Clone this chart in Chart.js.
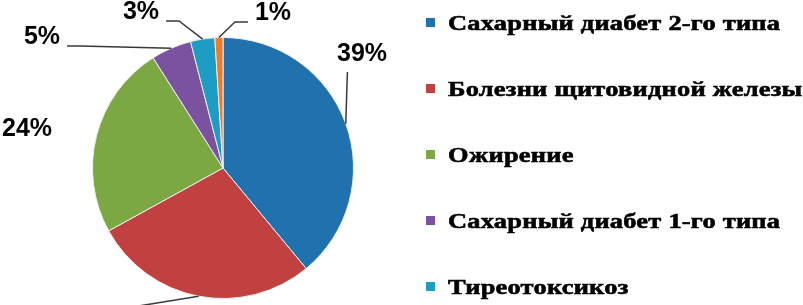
<!DOCTYPE html>
<html lang="ru">
<head>
<meta charset="utf-8">
<script src="https://cdn.jsdelivr.net/npm/chart.js@4"></script>
<style>
    html, body { margin: 0; padding: 0; background: #fff; }
    body { width: 803px; height: 305px; overflow: hidden; position: relative; }
    #wrap { position: absolute; left: 0; top: 0; width: 440px; height: 340px; }
    #legend { position: absolute; left: 426px; top: -10.5px; margin: 0; padding: 0; list-style: none; }
    #legend li {
        height: 66px; display: flex; align-items: center; white-space: nowrap;
        font: bold 22px "Liberation Serif", "Times New Roman", serif; color: #000;
    }
    #legend .box { width: 9px; height: 9px; margin-right: 13px; flex: none; }
    #legend .txt {
        display: inline-block; transform: scaleX(1.2); transform-origin: left center;
        letter-spacing: 0.2px; -webkit-text-stroke: 0.6px #000;
    }
</style>
</head>
<body>
<div id="wrap"><canvas id="chart"></canvas></div>
<ul id="legend"></ul>
<script>
    const categories = [
        "Сахарный диабет 2-го типа",
        "Болезни щитовидной железы",
        "Ожирение",
        "Сахарный диабет 1-го типа",
        "Тиреотоксикоз",
        "Другое"
    ];
    const shares = [39, 28, 24, 5, 3, 1];
    const colors = ["#1f72ae", "#c0413f", "#7ba842", "#7a52a0", "#1e9dc4", "#f07a2a"];

    // where each percent label sits, relative to the pie centre (px), and whether it gets a leader line
    const labelOffsets = [[139, -114], [-148, 150], [-196, -39], [-181, -131], [-82, -156], [50, -155]];
    const labelLeaders = [true, true, false, true, true, true];

    // HTML legend
    const legend = document.getElementById("legend");
    categories.forEach((name, i) => {
        const li = document.createElement("li");
        const box = document.createElement("span");
        box.className = "box";
        box.style.background = colors[i];
        const txt = document.createElement("span");
        txt.className = "txt";
        txt.textContent = name;
        li.appendChild(box);
        li.appendChild(txt);
        legend.appendChild(li);
    });

    // percent labels + leader lines
    const outsideLabels = {
        id: "outsideLabels",
        afterDatasetsDraw(chart) {
            const ctx = chart.ctx;
            const arcs = chart.getDatasetMeta(0).data;
            ctx.save();
            ctx.font = "bold 25px 'Liberation Sans', Arial, sans-serif";
            ctx.textAlign = "center";
            ctx.textBaseline = "middle";
            arcs.forEach((arc, i) => {
                const { x, y, startAngle, endAngle, outerRadius } = arc.getProps(["x", "y", "startAngle", "endAngle", "outerRadius"], true);
                const mid = (startAngle + endAngle) / 2;
                const ex = x + Math.cos(mid) * outerRadius;
                const ey = y + Math.sin(mid) * outerRadius;
                const text = shares[i] + "%";
                const lx = x + labelOffsets[i][0];
                const ly = y + labelOffsets[i][1];
                const w = ctx.measureText(text).width;
                const x1 = lx - w / 2, x2 = lx + w / 2, y1 = ly - 9, y2 = ly + 9;

                if (labelLeaders[i]) {
                    ctx.beginPath();
                    ctx.strokeStyle = "#3a3a3a";
                    ctx.lineWidth = 1.5;
                    ctx.moveTo(ex, ey);
                    if (ex < x1 - 4 || ex > x2 + 4) {
                        const right = ex > x2;
                        const ax = right ? x2 + 7 : x1 - 7;
                        const ay = Math.min(Math.max(ey, y1), y2);
                        ctx.lineTo(right ? ax + 13 : ax - 13, ay);
                        ctx.lineTo(ax, ay);
                    } else {
                        ctx.lineTo(ex + (lx - ex) * 0.1, ey > y2 ? y2 + 9 : y1 - 9);
                    }
                    ctx.stroke();
                }
                ctx.fillStyle = "#000";
                ctx.fillText(text, lx, ly);
            });
            ctx.restore();
        }
    };

    new Chart(document.getElementById("chart"), {
        type: "pie",
        data: {
            labels: categories,
            datasets: [{
                data: shares,
                backgroundColor: colors,
                borderColor: "#eeeeee",
                borderWidth: 1
            }]
        },
        options: {
            responsive: true,
            maintainAspectRatio: false,
            animation: false,
            layout: { padding: { left: 92, top: 37, right: 86, bottom: 41 } },
            plugins: {
                legend: { display: false },
                tooltip: { enabled: false }
            }
        },
        plugins: [outsideLabels]
    });
</script>
</body>
</html>
